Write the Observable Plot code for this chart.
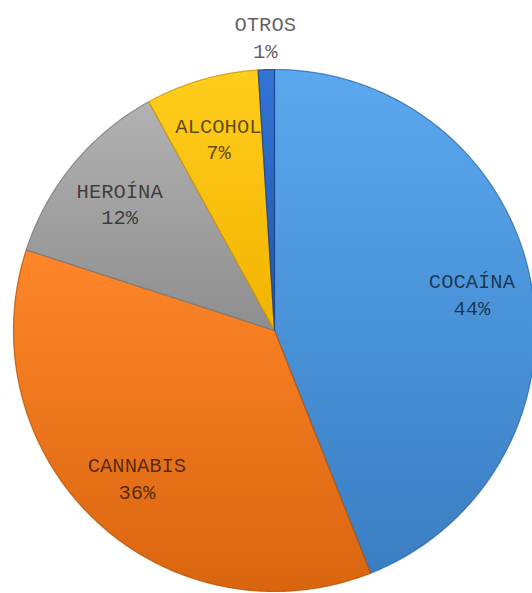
<!DOCTYPE html>
<html>
<head>
<meta charset="utf-8">
<script src="https://cdn.jsdelivr.net/npm/d3@7"></script>
<script src="https://cdn.jsdelivr.net/npm/@observablehq/plot@0.6"></script>
<style>
  html, body { margin: 0; padding: 0; background: #fff; overflow: hidden; }
  #chart svg { overflow: hidden; display: block; }
</style>
</head>
<body>
<div id="chart"></div>
<script>
// ---- data ----
const names = ["COCAÍNA", "CANNABIS", "HEROÍNA", "ALCOHOL", "OTROS"];
const shares = [44, 36, 12, 7, 1];
const labels = ["44%", "36%", "12%", "7%", "1%"];

// ---- styles ----
const gradStops = [
  ["#5aa8ef", "#3a7dc2"],
  ["#ff8629", "#d9650f"],
  ["#b2b2b2", "#8e8e8e"],
  ["#ffcd1c", "#f2b300"],
  ["#3374d6", "#1f56aa"]
];
const edgeColors = ["#2f6aa8", "#b65408", "#7a7a7a", "#c99500", "#183f80"];

const rows = names.map((n, i) => ({name: n, value: shares[i], label: labels[i], i}));
const arcs = d3.pie().sort(null).value(d => d.value)(rows);

// slice outlines from the pie angles (angle 0 = top, clockwise)
const pts = [];
for (const a of arcs) {
  const n = Math.max(4, Math.ceil((a.endAngle - a.startAngle) / 0.01));
  pts.push({name: a.data.name, x: 0, y: 0});
  for (let k = 0; k <= n; k++) {
    const t = a.startAngle + (a.endAngle - a.startAngle) * k / n;
    pts.push({name: a.data.name, x: Math.sin(t), y: Math.cos(t)});
  }
}

const labelPts = arcs.map(a => {
  const m = (a.startAngle + a.endAngle) / 2;
  const r = a.data.value < 3 ? 1.13 : 0.77;
  return {name: a.data.name, label: a.data.name + "\n" + a.data.label, x: r * Math.sin(m), y: r * Math.cos(m)};
});

const cx = 274, cy = 330, R = 261;
const plot = Plot.plot({
  width: 532,
  height: 593,
  margin: 0,
  x: {domain: [-1, 1], range: [cx - R, cx + R], axis: null},
  y: {domain: [-1, 1], range: [cy + R, cy - R], axis: null},
  color: {domain: names, range: names.map((_, i) => `url(#slice-grad-${i})`)},
  marks: [
    Plot.line(pts, {
      x: "x", y: "y", z: "name",
      fill: "name",
      stroke: d => edgeColors[names.indexOf(d.name)],
      strokeWidth: 1.2,
      strokeOpacity: 0.8,
      curve: "linear-closed"
    }),
    Plot.text(labelPts, {
      x: "x", y: "y", text: "label",
      fill: "#000",
      fillOpacity: 0.64,
      fontFamily: "Liberation Mono, DejaVu Sans Mono, monospace",
      fontSize: 20.5,
      lineHeight: 1.3
    })
  ]
});

// gradient definitions for the slice fills
const svg = d3.select(plot);
const defs = svg.insert("defs", ":first-child");
gradStops.forEach((s, i) => {
  const g = defs.append("linearGradient")
    .attr("id", `slice-grad-${i}`)
    .attr("x1", 0).attr("y1", 0).attr("x2", 0).attr("y2", 1);
  g.append("stop").attr("offset", "0%").attr("stop-color", s[0]);
  g.append("stop").attr("offset", "100%").attr("stop-color", s[1]);
});

document.getElementById("chart").appendChild(plot);
</script>
</body>
</html>
